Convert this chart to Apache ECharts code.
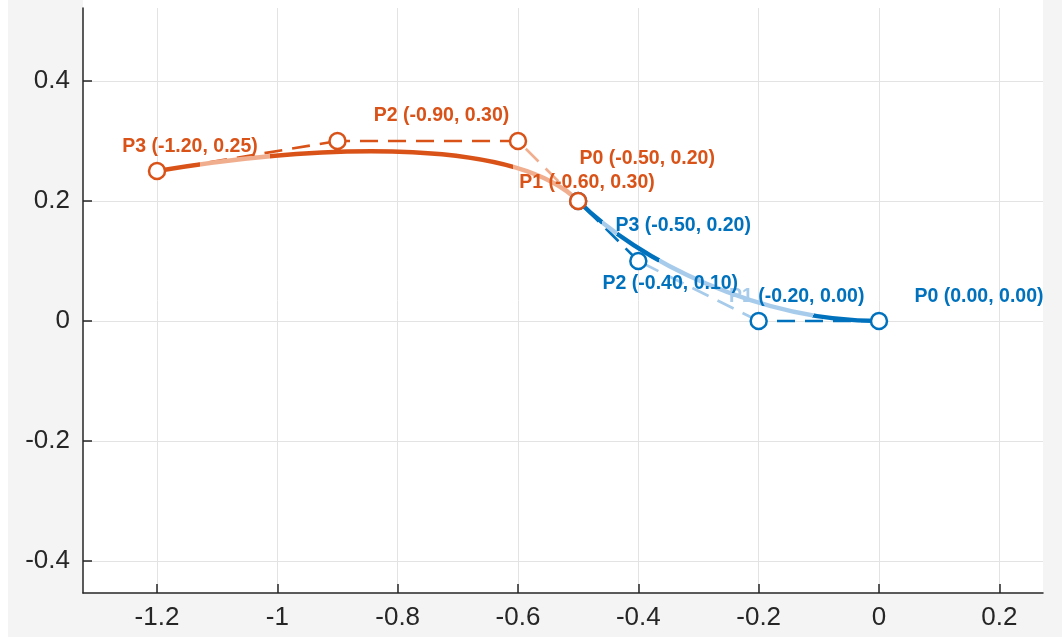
<!DOCTYPE html>
<html><head><meta charset="utf-8">
<script src="https://cdn.jsdelivr.net/npm/echarts@6/dist/echarts.min.js"></script>
<style>
html,body{margin:0;padding:0;background:#fff;width:1062px;height:637px;overflow:hidden}
#bg{position:absolute;left:8px;top:0;width:1054px;height:637px;background:#f4f4f4}
#topw{position:absolute;left:83px;top:0;width:960px;height:8px;background:#fff}
#c{position:absolute;left:0;top:0;width:1062px;height:637px}
</style></head><body>
<div id="bg"></div><div id="topw"></div><div id="c"></div>
<script>
// ---- data ----
const orangeX = [-0.5, -0.6, -0.9, -1.2];
const orangeY = [0.2, 0.3, 0.3, 0.25];
const orangeLabels = ['P0 (-0.50, 0.20)', 'P1 (-0.60, 0.30)', 'P2 (-0.90, 0.30)', 'P3 (-1.20, 0.25)'];
const blueX = [0, -0.2, -0.4, -0.5];
const blueY = [0, 0, 0.1, 0.2];
const blueLabels = ['P0 (0.00, 0.00)', 'P1 (-0.20, 0.00)', 'P2 (-0.40, 0.10)', 'P3 (-0.50, 0.20)'];
const xTicks = [-1.2, -1, -0.8, -0.6, -0.4, -0.2, 0, 0.2];
const yTicks = [-0.4, -0.2, 0, 0.2, 0.4];

// ---- style ----
const ORANGE = '#D95319', ORANGE_L = '#F0AE8F', BLUE = '#0072BD', BLUE_L = '#A7CBEA';
const AXIS = '#262626', GRIDC = '#e3e3e3';
const FONT = 'Liberation Sans, Arial, sans-serif';
const LABEL_SIZE = 19.5;
const orangeLabelOffsets = [[69, -42], [69, 42], [104, -25], [33, -24]];
const blueLabelOffsets = [[100, -24], [38, -24], [32, 23], [105, 25]];
const orangeBands = [[0, 0.16, ORANGE_L], [0.16, 0.736, ORANGE], [0.736, 0.90, ORANGE_L], [0.90, 1, ORANGE]];
const blueBands = [[0, 0.195, BLUE], [0.195, 0.70, BLUE_L], [0.70, 0.851, BLUE], [0.851, 0.907, BLUE_L], [0.907, 1, BLUE]];
const orangeSegColors = [ORANGE_L, ORANGE, ORANGE];
const blueSegColors = [BLUE, BLUE_L, BLUE];

function bezierSeries(xs, ys, bands, z) {
  return {
    type: 'custom', z: z, silent: true, clip: false,
    data: [[xs[0], ys[0], xs[1], ys[1], xs[2], ys[2], xs[3], ys[3]]],
    encode: { x: [0, 2, 4, 6], y: [1, 3, 5, 7] },
    renderItem: function (params, api) {
      const p = [0, 1, 2, 3].map(i => api.coord([api.value(2 * i), api.value(2 * i + 1)]));
      const stops = [];
      bands.forEach(b => { stops.push({ offset: b[0], color: b[2] }); stops.push({ offset: b[1], color: b[2] }); });
      return {
        type: 'bezierCurve',
        shape: { x1: p[0][0], y1: p[0][1], cpx1: p[1][0], cpy1: p[1][1], cpx2: p[2][0], cpy2: p[2][1], x2: p[3][0], y2: p[3][1] },
        style: { fill: 'none', stroke: new echarts.graphic.LinearGradient(p[0][0], p[0][1], p[3][0], p[3][1], stops, true), lineWidth: 4.5, lineCap: 'butt' }
      };
    }
  };
}
function segSeries(xs, ys, colors, z) {
  const out = [];
  for (let i = 0; i < xs.length - 1; i++) {
    out.push({
      type: 'line', z: z, silent: true, symbol: 'none', animation: false,
      data: [[xs[i], ys[i]], [xs[i + 1], ys[i + 1]]],
      lineStyle: { color: colors[i], width: 2.6, type: [18, 10] }
    });
  }
  return out;
}
function markerSeries(xs, ys, labels, offsets, color, light, z) {
  return {
    type: 'scatter', z: z, silent: true, symbol: 'circle', symbolSize: 16,
    itemStyle: { color: '#fff', borderColor: color, borderWidth: 2.5, opacity: 1 },
    data: xs.map((x, i) => ({ value: [x, ys[i]], label: { offset: offsets[i] } })),
    label: {
      show: true, position: 'inside', color: color, fontSize: LABEL_SIZE, fontWeight: 'bold',
      fontFamily: FONT,
      formatter: p => {
        const s = labels[p.dataIndex];
        if (light && p.dataIndex === 1) {
          const k = s.indexOf(' ');
          return '{f|' + s.slice(0, k) + '}{n|' + s.slice(k) + '}';
        }
        return s;
      },
      rich: {
        f: { color: light, fontSize: LABEL_SIZE, fontWeight: 'bold', fontFamily: FONT },
        n: { color: color, fontSize: LABEL_SIZE, fontWeight: 'bold', fontFamily: FONT }
      }
    }
  };
}
const fmt = v => String(+(+v).toFixed(2));
const axisCommon = {
  type: 'value',
  axisLine: { show: true, onZero: false, lineStyle: { color: AXIS, width: 1.5 } },
  splitLine: { show: true, lineStyle: { color: GRIDC, width: 1 } },
};
const chart = echarts.init(document.getElementById('c'), null, { renderer: 'canvas' });
chart.setOption({
  animation: false,
  backgroundColor: 'transparent',
  grid: { left: 83, right: 19, top: 8, bottom: 44, show: true, backgroundColor: '#fff', borderWidth: 0 },
  xAxis: Object.assign({}, axisCommon, {
    min: -1.323, max: 0.2726,
    axisTick: { show: true, inside: true, length: 9, customValues: xTicks, lineStyle: { color: AXIS, width: 1.5 } },
    axisLabel: { customValues: xTicks, formatter: fmt, fontSize: 26, color: AXIS, margin: 12, fontFamily: FONT }
  }),
  yAxis: Object.assign({}, axisCommon, {
    min: -0.4533, max: 0.5217,
    axisTick: { show: true, inside: true, length: 9, customValues: yTicks, lineStyle: { color: AXIS, width: 1.5 } },
    axisLabel: { customValues: yTicks, formatter: fmt, fontSize: 26, color: AXIS, margin: 13, fontFamily: FONT }
  }),
  series: [].concat(
    segSeries(blueX, blueY, blueSegColors, 2),
    segSeries(orangeX, orangeY, orangeSegColors, 2),
    [bezierSeries(blueX, blueY, blueBands, 3), bezierSeries(orangeX, orangeY, orangeBands, 3)],
    [markerSeries(blueX, blueY, blueLabels, blueLabelOffsets, BLUE, BLUE_L, 4),
     markerSeries(orangeX, orangeY, orangeLabels, orangeLabelOffsets, ORANGE, null, 5)]
  )
});
</script></body></html>
